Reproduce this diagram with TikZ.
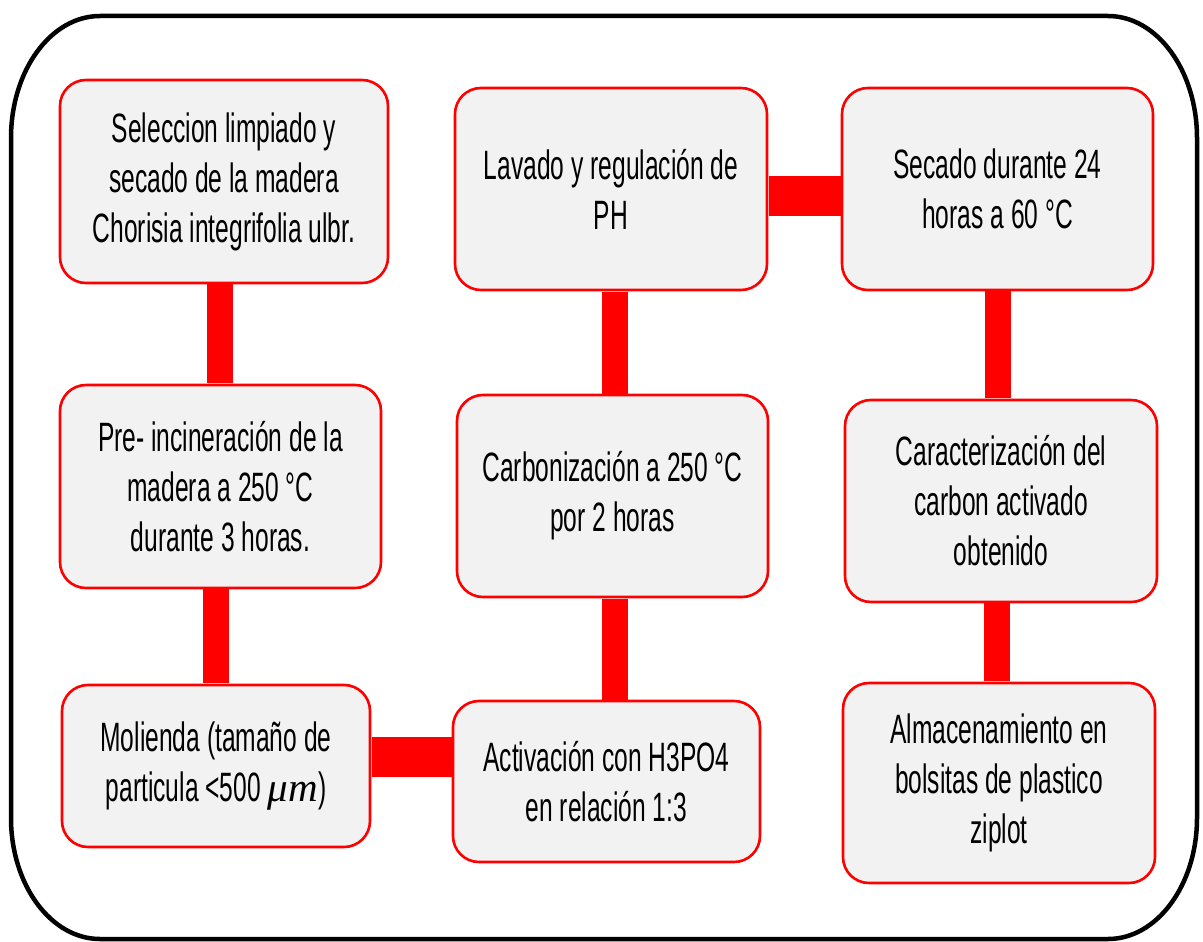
\documentclass[tikz,border=0pt]{standalone}
\usepackage{fontspec}
\setmainfont[FakeStretch=0.6]{Liberation Sans}
\newfontfamily\mufont{Liberation Serif}
\definecolor{boxred}{HTML}{FF0000}
\definecolor{boxfill}{HTML}{F2F2F2}
\tikzset{
  stepbox/.style={draw=boxred, line width=2.6pt, fill=boxfill, rounded corners=26pt,
    align=center, inner sep=0pt, text=black,
    font=\fontsize{41}{50}\selectfont},
  vbar/.style={draw=boxred, line width=26pt},
  hbar/.style={draw=boxred, line width=40pt},
}
\begin{document}
\begin{tikzpicture}[x=1pt,y=-1pt]
\useasboundingbox (0,0) rectangle (1203,942);
% outer frame with elliptical corners (y axis points down)
\draw[line width=4.5pt, black]
  (100,16) -- (1108,16) arc[start angle=-90,end angle=0,x radius=89,y radius=122]
  -- (1197,818) arc[start angle=0,end angle=90,x radius=89,y radius=121]
  -- (100,939) arc[start angle=90,end angle=180,x radius=89,y radius=121]
  -- (11,138) arc[start angle=180,end angle=270,x radius=89,y radius=122] -- cycle;

% boxes
\node[stepbox, minimum width=328pt, minimum height=203pt] (b1) at (224,181.5)
  {Seleccion limpiado y\\secado de la madera\\Chorisia integrifolia ulbr.};
\node[stepbox, minimum width=321pt, minimum height=203pt] (b2) at (220.5,486.5)
  {Pre- incineración de la\\madera a 250 °C\\durante 3 horas.};
\node[stepbox, minimum width=308pt, minimum height=162pt] (b3) at (216,766)
  {Molienda (tamaño de\\particula <500 {\mufont\itshape μm})};
\node[stepbox, minimum width=307pt, minimum height=161pt] (b4) at (606.5,781.5)
  {Activación con H3PO4\\en relación 1:3};
\node[stepbox, minimum width=311pt, minimum height=202pt] (b5) at (612.5,496)
  {Carbonización a 250 °C\\por 2 horas};
\node[stepbox, minimum width=312pt, minimum height=202pt] (b6) at (611,189)
  {Lavado y regulación de\\PH};
\node[stepbox, minimum width=311pt, minimum height=202pt] (b7) at (997.5,189)
  {Secado durante 24\\horas a 60 °C};
\node[stepbox, minimum width=312pt, minimum height=202pt] (b8) at (1001,501)
  {Caracterización del\\carbon activado\\obtenido};
\node[stepbox, minimum width=312pt, minimum height=200pt] (b9) at (999,783)
  {Almacenamiento en\\bolsitas de plastico\\ziplot};

% connectors (thick red bars)
\draw[vbar] ([xshift=-4pt,yshift=1pt]b1.south) -- ([xshift=-4pt,yshift=1pt]b1.south |- b2.north);
\draw[vbar] ([xshift=-4.5pt,yshift=1pt]b2.south) -- ([xshift=-4.5pt,yshift=1pt]b2.south |- b3.north);
\draw[hbar] ([xshift=1pt,yshift=9pt]b3.east) -- ([xshift=1pt,yshift=9pt]b3.east -| b4.west);
\draw[vbar] ([xshift=8.5pt,yshift=-1pt]b4.north) -- ([xshift=8.5pt,yshift=-1pt]b4.north |- b5.south);
\draw[vbar] ([xshift=2.5pt,yshift=-1pt]b5.north) -- ([xshift=2.5pt,yshift=-1pt]b5.north |- b6.south);
\draw[hbar] ([xshift=1pt,yshift=-7pt]b6.east) -- ([xshift=1pt,yshift=-7pt]b6.east -| b7.west);
\draw[vbar] ([yshift=1pt]b7.south) -- ([yshift=1pt]b7.south |- b8.north);
\draw[vbar] ([xshift=-4.5pt,yshift=1pt]b8.south) -- ([xshift=-4.5pt,yshift=1pt]b8.south |- b9.north);
\end{tikzpicture}
\end{document}
